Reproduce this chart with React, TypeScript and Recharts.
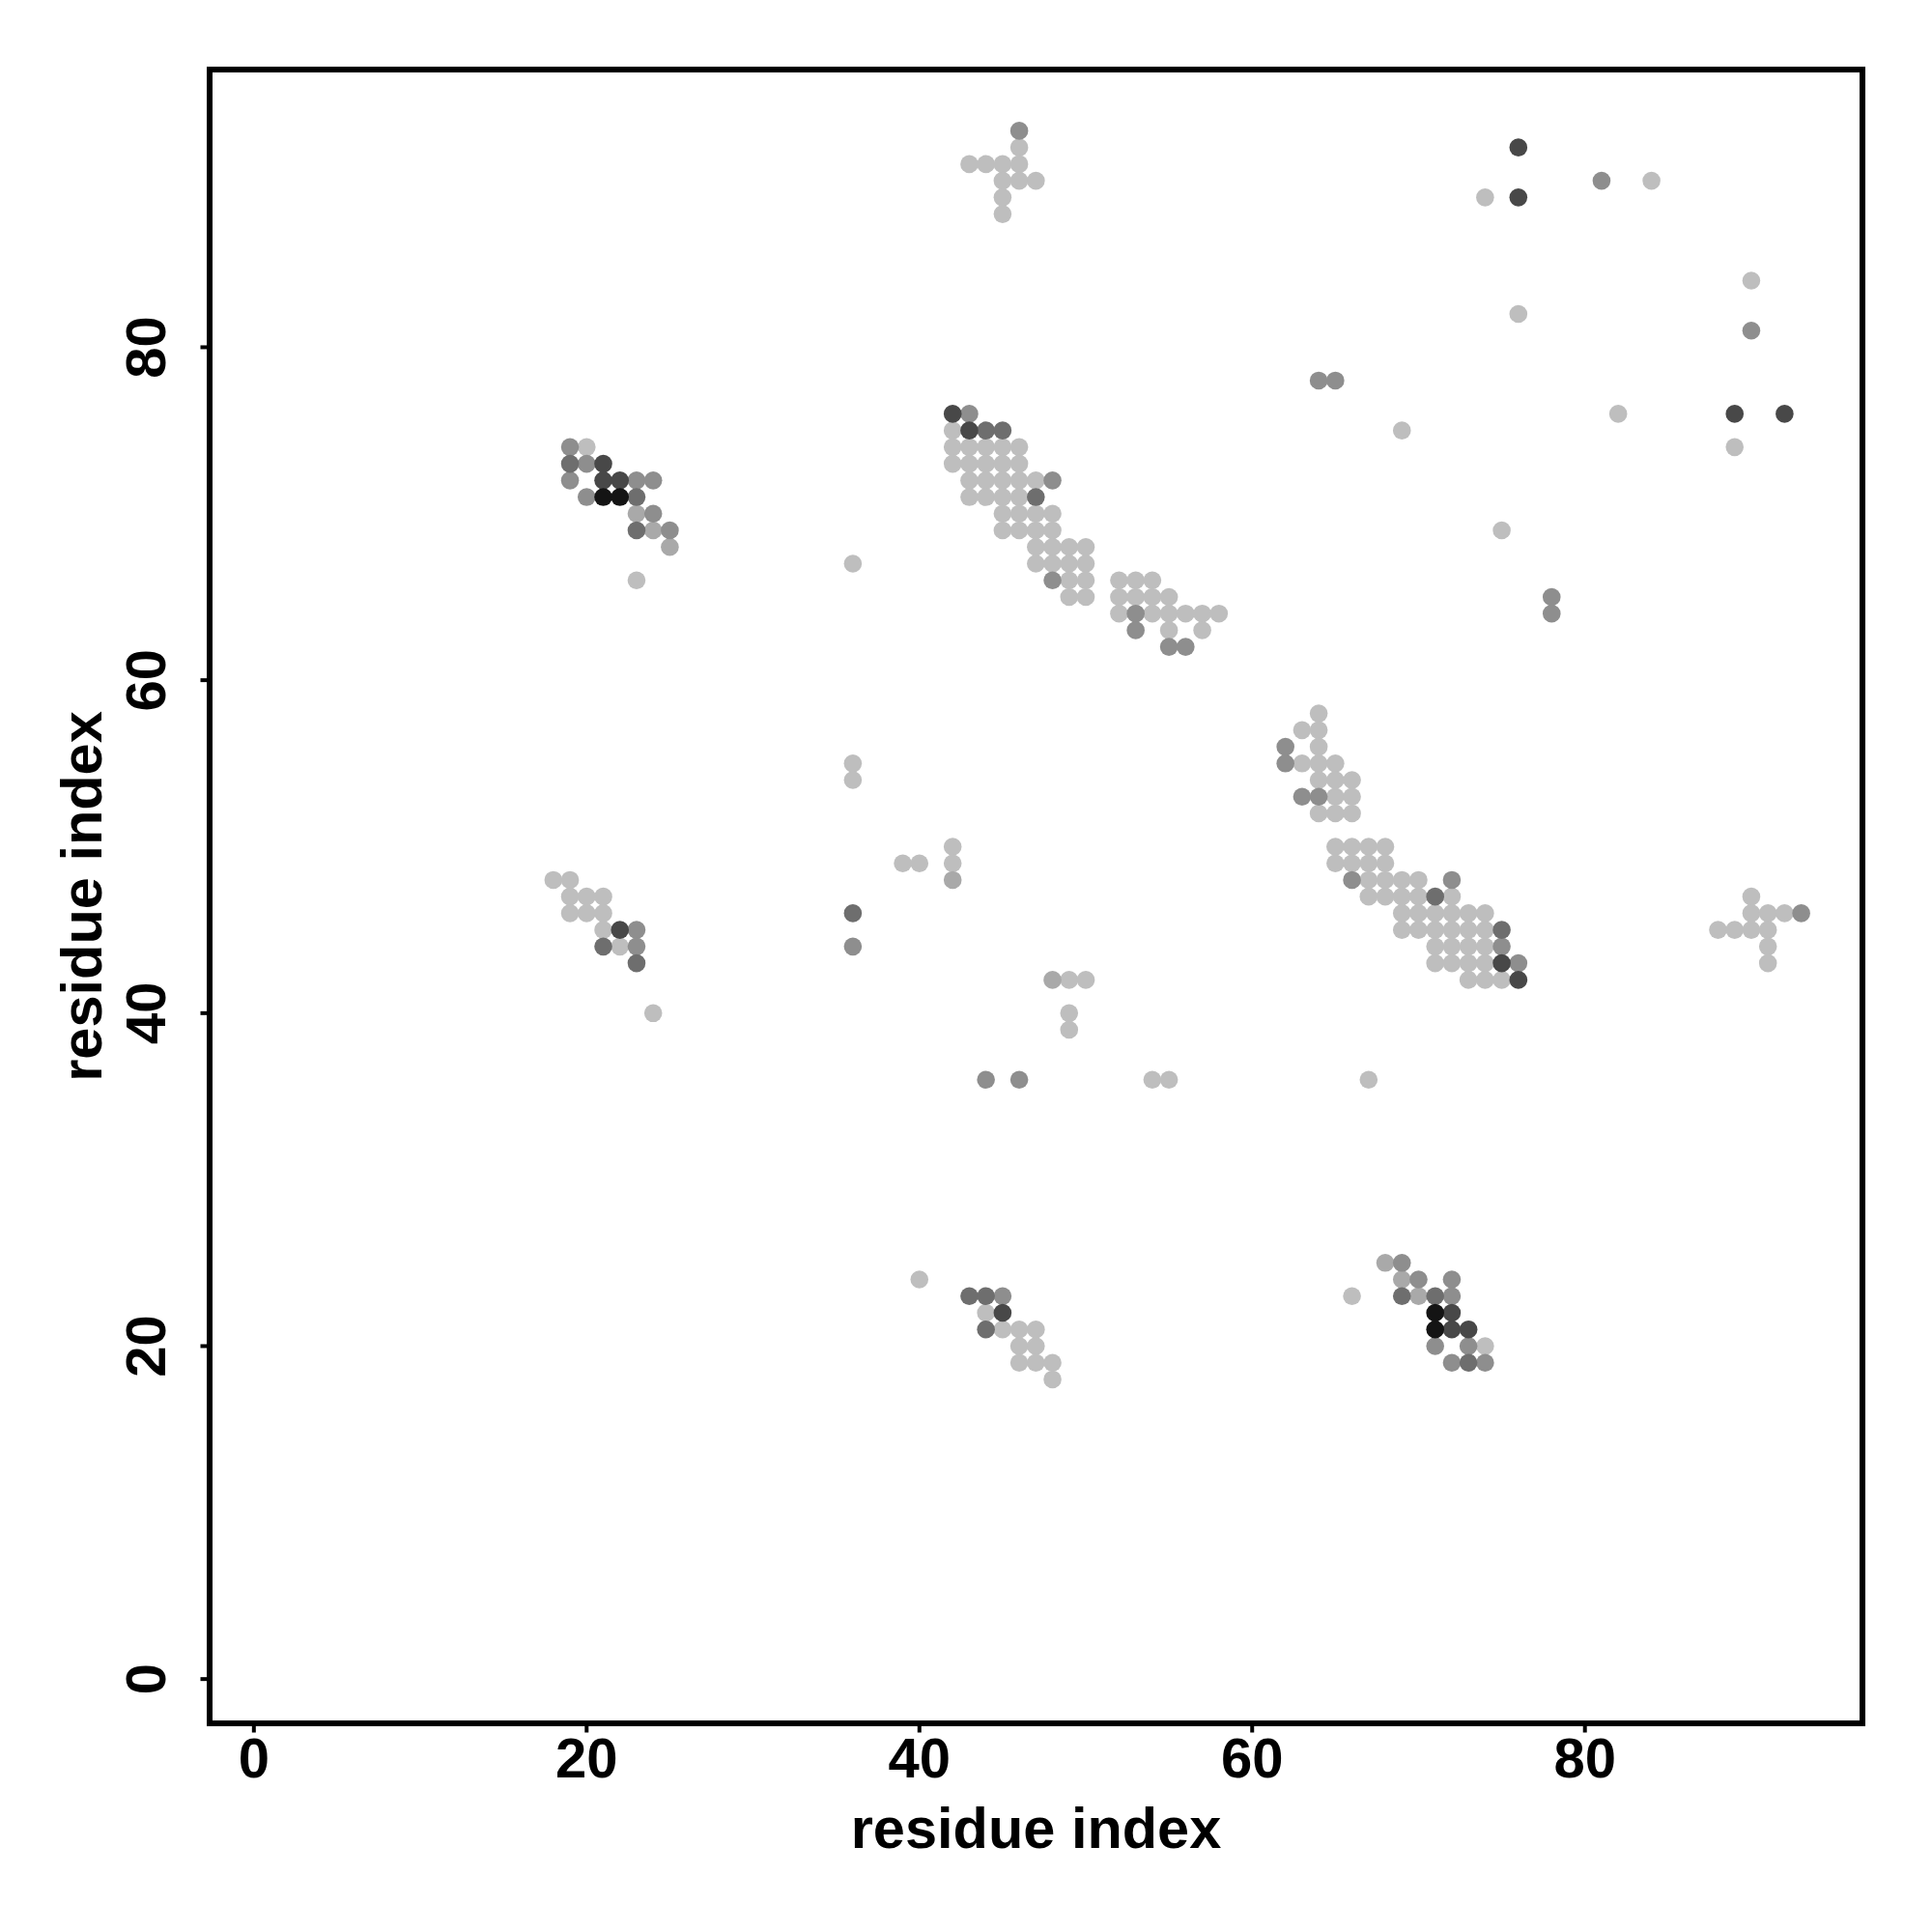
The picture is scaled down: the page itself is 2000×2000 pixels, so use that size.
import { ReferenceArea, Scatter, ScatterChart, XAxis, YAxis } from "recharts";

// contact map, residue pairs grouped by grey level (light -> black)
const lightContacts: [number, number][] = [
  [20, 74], [23, 66],
  [42, 75],
  [42, 74], [43, 74], [44, 74], [45, 74], [46, 74],
  [42, 73], [43, 73], [44, 73], [45, 73], [46, 73],
  [43, 72], [44, 72], [45, 72], [46, 72], [47, 72],
  [43, 71], [44, 71], [45, 71], [46, 71],
  [45, 70], [46, 70], [47, 70], [48, 70],
  [45, 69], [46, 69], [47, 69], [48, 69],
  [47, 68], [48, 68], [49, 68], [50, 68],
  [47, 67], [48, 67], [49, 67], [50, 67],
  [49, 66], [50, 66], [52, 66], [53, 66], [54, 66],
  [49, 65], [50, 65], [52, 65], [53, 65], [54, 65], [55, 65],
  [52, 64], [54, 64], [55, 64], [56, 64], [57, 64], [58, 64],
  [55, 63], [57, 63],
  [46, 92], [43, 91], [44, 91], [45, 91], [46, 91], [45, 90], [46, 90], [47, 90], [45, 89], [45, 88],
  [64, 58], [63, 57], [64, 57], [64, 56], [63, 55], [64, 55], [65, 55],
  [64, 54], [65, 54], [66, 54], [65, 53], [66, 53], [64, 52], [65, 52], [66, 52],
  [65, 50], [66, 50], [67, 50], [68, 50], [65, 49], [66, 49], [67, 49], [68, 49],
  [67, 48], [68, 48], [69, 48], [70, 48],
  [67, 47], [68, 47], [69, 47], [70, 47], [72, 47],
  [69, 46], [70, 46], [71, 46], [72, 46], [73, 46], [74, 46],
  [69, 45], [70, 45], [71, 45], [72, 45], [73, 45], [74, 45],
  [71, 44], [72, 44], [73, 44], [74, 44],
  [71, 43], [72, 43], [73, 43], [74, 43],
  [73, 42], [74, 42], [75, 42],
  [18, 48], [19, 48], [19, 47], [20, 47], [21, 47], [19, 46], [20, 46], [21, 46], [21, 45], [22, 44], [24, 40],
  [40, 24], [44, 22], [45, 21], [46, 21], [47, 21], [46, 20], [47, 20], [46, 19], [47, 19], [48, 19], [48, 18],
  [66, 23], [74, 20],
  [90, 47], [90, 46], [91, 46], [92, 46], [88, 45], [89, 45], [90, 45], [91, 45], [91, 44], [91, 43],
  [36, 67], [36, 55], [36, 54], [39, 49], [40, 49], [42, 50], [42, 49],
  [49, 42], [50, 42], [49, 40], [49, 39], [54, 36], [55, 36], [67, 36],
  [74, 89], [84, 90], [90, 84], [76, 82], [82, 76], [69, 75], [89, 74], [75, 69],
];

const paleContacts: [number, number][] = [
  [23, 70], [24, 69], [25, 68], [42, 48], [48, 42], [68, 25], [69, 24], [70, 23],
];

const midContacts: [number, number][] = [
  [19, 74], [20, 73], [19, 72], [23, 72], [24, 72], [20, 71], [24, 70], [25, 69],
  [43, 76], [48, 72], [48, 66], [53, 64], [53, 63], [55, 62], [56, 62], [46, 93],
  [62, 56], [62, 55], [63, 53], [64, 53], [66, 48], [72, 48], [75, 44], [76, 43],
  [23, 45], [23, 44], [45, 23],
  [69, 25], [70, 24], [72, 24], [72, 23], [71, 20], [73, 20], [72, 19], [74, 19],
  [93, 46], [36, 44], [44, 36], [46, 36], [81, 90], [90, 81], [64, 78], [65, 78], [78, 65], [78, 64],
];

const darkContacts: [number, number][] = [
  [19, 73], [23, 71], [23, 69], [44, 75], [45, 75], [47, 71], [71, 47], [75, 45],
  [21, 44], [23, 43], [43, 23], [44, 23], [44, 21], [69, 23], [71, 23], [73, 19], [36, 46],
];

const darkerContacts: [number, number][] = [
  [21, 73], [21, 72], [22, 72], [42, 76], [43, 75], [75, 43], [76, 42], [22, 45],
  [45, 22], [72, 22], [72, 21], [73, 21], [76, 92], [76, 89], [89, 76], [92, 76],
];

const blackContacts: [number, number][] = [
  [21, 71], [22, 71], [71, 22], [71, 21],
];

const xTicks = [0, 20, 40, 60, 80];
const yTicks = [0, 20, 40, 60, 80];

const DOMAIN: [number, number] = [-2.66, 96.68];
const FONT = "'Liberation Sans', Arial, Helvetica, sans-serif";

const series = [
  { name: "light", color: "#bebebe", points: lightContacts },
  { name: "pale", color: "#a9a9a9", points: paleContacts },
  { name: "mid", color: "#8e8e8e", points: midContacts },
  { name: "dark", color: "#6e6e6e", points: darkContacts },
  { name: "darker", color: "#484848", points: darkerContacts },
  { name: "black", color: "#141414", points: blackContacts },
];

const Dot = (props: any) => (
  <circle cx={props.cx} cy={props.cy} r={9.3} fill={props.fill} />
);

const XTick = (props: any) => (
  <text
    x={props.x}
    y={props.y}
    dy="0.71em"
    textAnchor="middle"
    fontFamily={FONT}
    fontWeight="bold"
    fontSize={58}
    fill="#000"
  >
    {props.payload.value}
  </text>
);

const YTick = (props: any) => (
  <text
    transform={`translate(${props.x}, ${props.y}) rotate(-90)`}
    textAnchor="middle"
    fontFamily={FONT}
    fontWeight="bold"
    fontSize={58}
    fill="#000"
  >
    {props.payload.value}
  </text>
);

const XTitle = (props: any) => {
  const vb = props.viewBox;
  return (
    <text
      x={vb.x + vb.width / 2}
      y={vb.y + 129}
      textAnchor="middle"
      fontFamily={FONT}
      fontWeight="bold"
      fontSize={59.5}
      fill="#000"
    >
      residue index
    </text>
  );
};

const YTitle = (props: any) => {
  const vb = props.viewBox;
  return (
    <text
      transform={`translate(${vb.x + 87.6}, ${vb.y + vb.height / 2}) rotate(-90)`}
      textAnchor="middle"
      fontFamily={FONT}
      fontWeight="bold"
      fontSize={59.5}
      fill="#000"
    >
      residue index
    </text>
  );
};

export default function App() {
  return (
    <div style={{ position: "absolute", left: 0, top: 0, width: 2000, height: 2000, background: "#fff" }}>
      <ScatterChart width={2000} height={2000} margin={{ top: 72, right: 72, bottom: 116, left: 17 }}>
        <XAxis
          type="number"
          dataKey="x"
          domain={DOMAIN}
          allowDataOverflow
          ticks={xTicks}
          height={100}
          axisLine={false}
          tickLine={{ stroke: "#000", strokeWidth: 4 }}
          tickSize={9.5}
          tickMargin={5.5}
          tick={<XTick />}
          label={<XTitle />}
        />
        <YAxis
          type="number"
          dataKey="y"
          domain={DOMAIN}
          allowDataOverflow
          ticks={yTicks}
          width={200}
          axisLine={false}
          tickLine={{ stroke: "#000", strokeWidth: 4 }}
          tickSize={9.5}
          tickMargin={36.5}
          tick={<YTick />}
          label={<YTitle />}
        />
        {series.map((s) => (
          <Scatter
            key={s.name}
            name={s.name}
            data={s.points.map(([x, y]) => ({ x, y }))}
            fill={s.color}
            shape={Dot}
            isAnimationActive={false}
          />
        ))}
        <ReferenceArea
          x1={DOMAIN[0]}
          x2={DOMAIN[1]}
          y1={DOMAIN[0]}
          y2={DOMAIN[1]}
          fill="none"
          fillOpacity={0}
          stroke="#000"
          strokeWidth={6}
          strokeOpacity={1}
          ifOverflow="visible"
        />
      </ScatterChart>
    </div>
  );
}
